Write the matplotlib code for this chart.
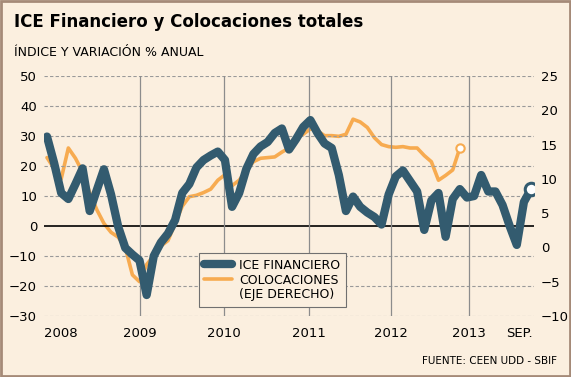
import numpy as np
import matplotlib
matplotlib.use("Agg")
import matplotlib.pyplot as plt
from matplotlib.patches import Rectangle
from matplotlib.lines import Line2D

# ICE Financiero (eje izquierdo), mensual desde ene-2008 hasta sep-2013
ice = [29.8, 21, 11, 9, 14, 19.2, 5, 12, 18.9, 10.5,
       -0.2, -7.3, -9.5, -11.5, -23, -10, -5.5, -2.5, 2, 11,
       14, 19.5, 22, 23.5, 24.8, 22, 6.4, 11, 19, 24,
       26.5, 28, 31, 32.5, 25.5, 29, 33, 35.3, 31, 27.5,
       26, 17, 5, 9.8, 6.4, 4.5, 3, 0.5, 10.5, 16.5,
       18.5, 15, 11.5, -1.3, 8.5, 11, -3.6, 9, 12.3, 9.5,
       10, 17, 11.5, 11.5, 7, 0, -6.3, 8, 12.3]

# Colocaciones totales, variación % anual (eje derecho)
coloc = [13.1, 11.5, 10, 14.5, 13, 11, 8, 5.5, 3.5, 2.2,
         1.5, 0, -4, -5, -2.5, -1.2, 0.2, 1, 3.5, 6,
         7.4, 7.6, 8, 8.5, 9.8, 10.6, 9, 9.8, 11.2, 12.5,
         13, 13.1, 13.2, 13.9, 14.5, 16, 16.5, 17.3, 17, 16.3,
         16.3, 16.2, 16.5, 18.7, 18.3, 17.5, 16, 15, 14.7, 14.6,
         14.7, 14.5, 14.5, 13.4, 12.5, 9.8, 10.5, 11.3, 14.5]

year_labels = ["2008", "2009", "2010", "2011", "2012", "2013", "SEP."]
year_pos = [2, 13.07, 24.87, 36.81, 48.33, 59.29, 66.4]
year_lines = year_pos[1:6]

left_ticks = [-30, -20, -10, 0, 10, 20, 30, 40, 50]
right_ticks = [-10, -5, 0, 5, 10, 15, 20, 25]

bg = "#fbefdf"
teal = "#335b6f"
orange = "#f7ab50"

fig = plt.figure(figsize=(5.71, 3.77), dpi=100, facecolor=bg)
ax = fig.add_axes([44 / 571, 1 - 316 / 377, 490 / 571, 240 / 377])
ax2 = ax.twinx()
ax.set_zorder(ax2.get_zorder() + 1)
ax.patch.set_visible(False)

x_ice = np.arange(len(ice))
x_col = np.arange(len(coloc))

for t in left_ticks:
    if t == 0:
        ax.axhline(0, color="black", lw=1.2, zorder=1)
    else:
        ax.axhline(t, color="#999999", lw=0.8, ls=(0, (3, 2)), zorder=1)
for xp in year_lines:
    ax.axvline(xp, color="#8c8c8c", lw=0.9, zorder=1)

ax2.plot(x_col, coloc, color=orange, lw=2.6, solid_joinstyle="round",
         solid_capstyle="round")
ax2.plot(x_col[-1], coloc[-1], "o", ms=6, mfc="white", mec=orange, mew=1.5)

ax.plot(x_ice, ice, color=teal, lw=6, solid_joinstyle="round",
        solid_capstyle="round", zorder=3)
ax.plot(x_ice[-1], ice[-1], "o", ms=9, mfc="white", mec=teal, mew=2.2, zorder=4)

ax.set_xlim(-0.42, 68.42)
ax.set_ylim(-30, 50)
ax2.set_ylim(-10, 25)
ax.set_yticks(left_ticks)
ax2.set_yticks(right_ticks)
ax.set_xticks(year_pos)
ax.set_xticklabels(year_labels)
ax.tick_params(axis="y", length=0, pad=5, labelsize=9.5)
ax.tick_params(axis="x", length=0, pad=8, labelsize=9.5)
ax2.tick_params(axis="y", length=0, pad=5, labelsize=9.5)
for a in (ax, ax2):
    for s in a.spines.values():
        s.set_visible(False)

handles = [Line2D([], [], color=teal, lw=6, solid_capstyle="round"),
           Line2D([], [], color=orange, lw=2.6, solid_capstyle="round"),
           Line2D([], [], color="none")]
leg = ax.legend(handles, ["ICE FINANCIERO", "COLOCACIONES", "(EJE DERECHO)"],
                loc="upper left", bbox_to_anchor=(0.316, 0.2625), borderaxespad=0,
                fontsize=9, frameon=True, fancybox=False, edgecolor="#707070",
                facecolor=bg, framealpha=1, handlelength=2.2, labelspacing=0.15,
                handletextpad=0.6, borderpad=0.45)
leg.get_frame().set_linewidth(0.8)
leg.set_zorder(5)

fig.text(14 / 571, 1 - 22 / 377, "ICE Financiero y Colocaciones totales",
         fontsize=12, fontweight="bold", va="center", ha="left")
fig.text(14 / 571, 1 - 52 / 377, "ÍNDICE Y VARIACIÓN % ANUAL",
         fontsize=9, va="center", ha="left")
fig.text(557 / 571, 1 - 361 / 377, "FUENTE: CEEN UDD - SBIF",
         fontsize=7.5, va="center", ha="right")

fig.patches.append(Rectangle((0.002, 0.003), 0.996, 0.994, transform=fig.transFigure,
                             fill=False, edgecolor="#a58a78", lw=2))

fig.savefig("out.png", dpi=100, facecolor=bg)
